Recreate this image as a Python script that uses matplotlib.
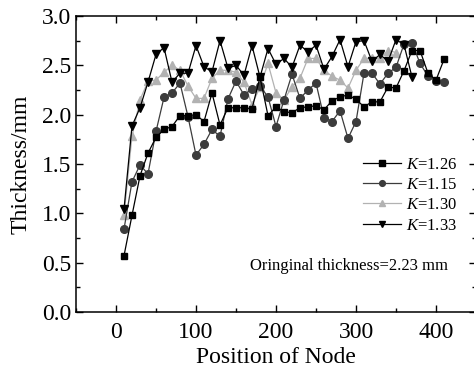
import matplotlib
matplotlib.use("Agg")
import matplotlib.pyplot as plt
from matplotlib.ticker import MultipleLocator, FormatStrFormatter

plt.rcParams['font.family'] = ['Liberation Serif', 'DejaVu Serif']
plt.rcParams['mathtext.fontset'] = 'custom'
plt.rcParams['mathtext.it'] = 'Liberation Serif:italic'
plt.rcParams['mathtext.rm'] = 'Liberation Serif'

# Node positions
x_126 = list(range(10, 420, 10))   # 41 points
x_115 = list(range(10, 420, 10))   # 41 points
x_130 = list(range(10, 360, 10))   # 35 points
x_133 = list(range(10, 380, 10))   # 37 points

k126 = [0.57, 0.98, 1.38, 1.61, 1.77, 1.85, 1.88, 1.99, 1.99, 2.00,
        1.93, 2.22, 1.895, 2.07, 2.07, 2.07, 2.06, 2.38, 1.99, 2.08,
        2.03, 2.02, 2.07, 2.08, 2.09, 2.05, 2.14, 2.18, 2.20, 2.155,
        2.08, 2.13, 2.13, 2.28, 2.27, 2.445, 2.65, 2.65, 2.42, 2.35,
        2.56]
k115 = [0.84, 1.32, 1.49, 1.40, 1.83, 2.175, 2.22, 2.32, 1.98, 1.59,
        1.70, 1.85, 1.78, 2.16, 2.34, 2.20, 2.26, 2.29, 2.18, 1.88,
        2.15, 2.41, 2.165, 2.25, 2.32, 1.97, 1.93, 2.04, 1.76, 1.93,
        2.42, 2.42, 2.31, 2.42, 2.48, 2.715, 2.73, 2.52, 2.39, 2.34,
        2.335]
k130 = [0.98, 1.78, 2.15, 2.34, 2.35, 2.43, 2.50, 2.45, 2.29, 2.165,
        2.165, 2.37, 2.45, 2.45, 2.43, 2.33, 2.10, 2.28, 2.52, 2.22,
        2.15, 2.28, 2.37, 2.57, 2.57, 2.45, 2.39, 2.35, 2.27, 2.45,
        2.57, 2.57, 2.57, 2.65, 2.63]
k133 = [1.04, 1.885, 2.07, 2.33, 2.61, 2.68, 2.33, 2.42, 2.42, 2.70,
        2.485, 2.435, 2.75, 2.47, 2.50, 2.40, 2.70, 2.38, 2.67, 2.51,
        2.57, 2.48, 2.705, 2.635, 2.705, 2.46, 2.59, 2.76, 2.485, 2.74,
        2.75, 2.54, 2.61, 2.54, 2.76, 2.71, 2.38]

labels = ['$K$=1.26', '$K$=1.15', '$K$=1.30', '$K$=1.33']

W, H = 474, 372
fig = plt.figure(figsize=(W / 100, H / 100), dpi=100)
ax = fig.add_axes([76 / W, (H - 312) / H, 400 / W, 296 / H])

lw = 0.9
ax.plot(x_126, k126, color='black', marker='s', ms=5, lw=lw, label=labels[0], zorder=4)
ax.plot(x_115, k115, color='#3c3c3c', marker='o', ms=5.5, lw=lw, label=labels[1], zorder=3)
ax.plot(x_130, k130, color='#b2b2b2', marker='^', ms=6, lw=lw, label=labels[2], zorder=2)
ax.plot(x_133, k133, color='black', marker='v', ms=6, lw=lw, label=labels[3], zorder=5)

ax.set_xlim(-50, 450)
ax.set_ylim(0, 3.0)
ax.xaxis.set_major_locator(MultipleLocator(100))
ax.xaxis.set_minor_locator(MultipleLocator(50))
ax.yaxis.set_major_locator(MultipleLocator(0.5))
ax.yaxis.set_minor_locator(MultipleLocator(0.25))
ax.yaxis.set_major_formatter(FormatStrFormatter('%.1f'))
ax.tick_params(which='both', direction='in', top=True, right=True, labelsize=17, width=1)
ax.tick_params(which='major', length=5)
ax.tick_params(which='minor', length=3)
ax.tick_params(axis='x', pad=7)
for s in ax.spines.values():
    s.set_linewidth(1.1)

ax.set_xlabel('Position of Node', fontsize=17, labelpad=3)
ax.set_ylabel('Thickness/mm', fontsize=17, labelpad=7)

leg = ax.legend(loc='upper left', bbox_to_anchor=((363 - 76) / 400, (312 - 157) / 296),
                frameon=False, fontsize=12, handlelength=2.3, handletextpad=0.3,
                labelspacing=0.25, borderaxespad=0, borderpad=0, markerscale=0.75)

ax.text((349 - 76) / 400, (312 - 266) / 296, 'Oringinal thickness=2.23 mm',
        transform=ax.transAxes, fontsize=12, ha='center', va='center')

fig.savefig('out.png', dpi=100)
